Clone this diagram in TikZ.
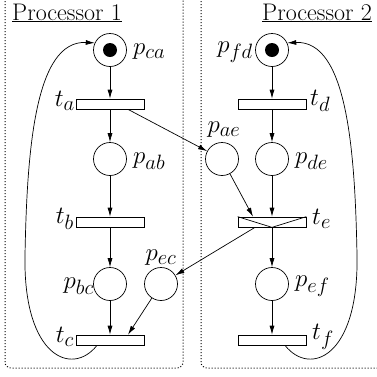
\documentclass[tikz,border=0pt]{standalone}
\usetikzlibrary{arrows.meta}
\begin{document}
\begin{tikzpicture}[x=1pt,y=-1pt,
  place/.style={draw,circle,minimum size=33pt,inner sep=0pt,line width=0.7pt},
  trans/.style={draw,rectangle,minimum width=68pt,minimum height=10pt,inner sep=0pt,line width=0.7pt,fill=white},
  arc/.style={line width=0.7pt,-{Latex[length=9pt,width=5pt]}},
  lbl/.style={inner sep=0pt,font=\fontsize{24.88}{30}\selectfont},
  proc/.style={dash pattern=on 1pt off 2pt,line width=1pt,rounded corners=6pt},
  ttl/.style={inner sep=0pt,anchor=base west,font=\rmfamily\fontsize{24}{28}\selectfont}]
\useasboundingbox (0,0) rectangle (377,376);
\begin{scope}
\clip (0,0) rectangle (377,376);
\draw[proc] (5,-20) rectangle (183,368);
\draw[proc] (201,-20) rectangle (395,368);
\end{scope}
% titles
\node[ttl] (title1) at (12,20) {\underline{Processor 1}};
\node[ttl] (title2) at (262,20) {\underline{Processor 2}};
% places
\node[place] (pca) at (110,50) {};
\node[place] (pab) at (110,159) {};
\node[place] (pbc) at (110,284) {};
\node[place] (pec) at (161,284) {};
\node[place] (pfd) at (272,50) {};
\node[place] (pae) at (222,159) {};
\node[place] (pde) at (272,159) {};
\node[place] (pef) at (272,284) {};
\fill (pca) circle (7pt);
\fill (pfd) circle (7pt);
% transitions
\node[trans] (ta) at (110,104) {};
\node[trans] (tb) at (110,222) {};
\node[trans] (tc) at (110,340) {};
\node[trans] (td) at (272,104) {};
\node[trans] (te) at (272,222) {};
\node[trans] (tf) at (272,340) {};
\draw[line width=0.7pt] (te.north west) -- (te.south) -- (te.north east);
% labels
\node[lbl,anchor=west] (lpca) at (133,52) {$p_{ca}$};
\node[lbl,anchor=east] (lta) at (75,101) {$t_a$};
\node[lbl,anchor=west] (lpab) at (133,161) {$p_{ab}$};
\node[lbl,anchor=east] (ltb) at (74,219) {$t_b$};
\node[lbl,anchor=east] (lpbc) at (94,286) {$p_{bc}$};
\node[lbl,anchor=east] (ltc) at (74,337) {$t_c$};
\node[lbl] (lpec) at (161,258) {$p_{ec}$};
\node[lbl] (lpae) at (224,130) {$p_{ae}$};
\node[lbl,anchor=east] (lpfd) at (253,52) {$p_{fd}$};
\node[lbl,anchor=west] (ltd) at (310,101) {$t_d$};
\node[lbl,anchor=west] (lpde) at (295,161) {$p_{de}$};
\node[lbl,anchor=west] (lte) at (312,219) {$t_e$};
\node[lbl,anchor=west] (lpef) at (295,286) {$p_{ef}$};
\node[lbl,anchor=west] (ltf) at (312,337) {$t_f$};
% arcs
\draw[arc] (pca) -- (ta);
\draw[arc] (ta) -- (pab);
\draw[arc] (pab) -- (tb);
\draw[arc] (tb) -- (pbc);
\draw[arc] (pbc) -- (tc);
\draw[arc] (pfd) -- (td);
\draw[arc] (td) -- (pde);
\draw[arc] (pde) -- (te);
\draw[arc] (te) -- (pef);
\draw[arc] (pef) -- (tf);
\draw[arc] ([xshift=18pt]ta.south) -- (pae);
\draw[arc] (pae) -- ([xshift=-19pt]te.north);
\draw[arc] ([xshift=-17pt]te.south) -- (pec);
\draw[arc] (pec) -- ([xshift=18pt]tc.north);
\draw[arc] ([xshift=-13pt]tc.south) .. controls (72,377) and (23,357) .. (25,255)
   .. controls (27,150) and (35,40) .. (pca.155);
\draw[arc] ([xshift=13pt]tf.south) .. controls (310,377) and (359,357) .. (357,255)
   .. controls (355,150) and (347,40) .. (pfd.25);
\end{tikzpicture}
\end{document}
